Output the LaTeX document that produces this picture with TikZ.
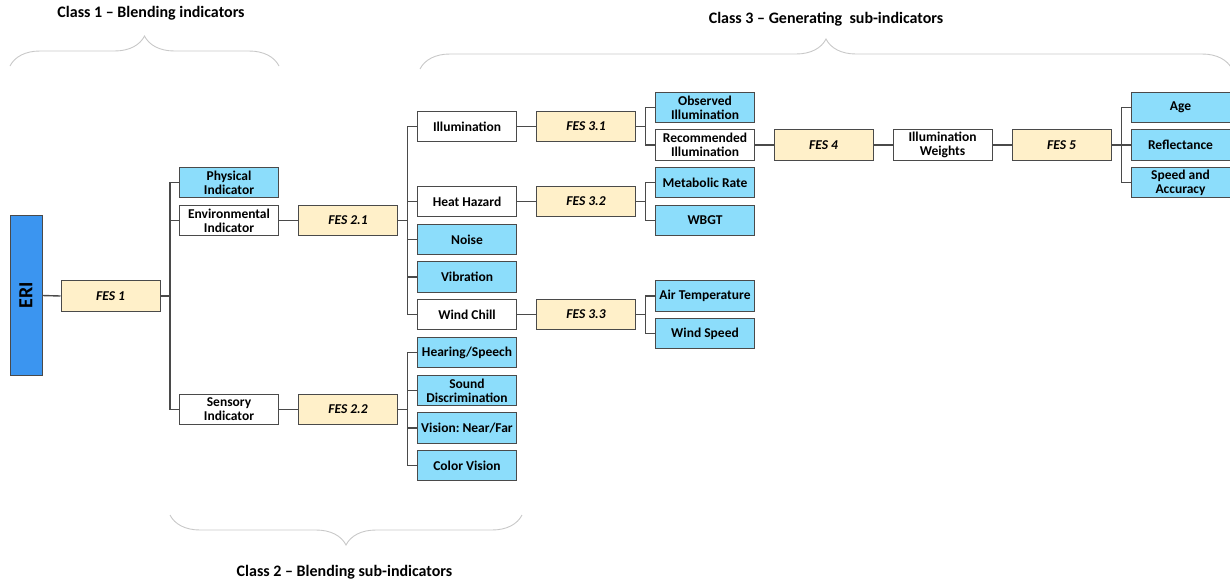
\documentclass[tikz,border=0pt]{standalone}
\usepackage{fontspec}
\setmainfont{Carlito}
\frenchspacing
\usetikzlibrary{decorations.pathreplacing}
\definecolor{eriblue}{HTML}{3B95F0}
\definecolor{leafblue}{HTML}{8CDDFB}
\definecolor{fescol}{HTML}{FFF0C9}
\definecolor{edgegray}{HTML}{4A4A4A}
\definecolor{bracegray}{HTML}{C8C8C8}
\tikzset{
  box/.style={draw=edgegray, line width=1pt, minimum width=99, minimum height=30.5,
    inner sep=0pt, align=center, font=\bfseries\fontsize{13.5}{14}\selectfont},
  whitebox/.style={box, fill=white},
  leaf/.style={box, fill=leafblue},
  fes/.style={box, fill=fescol, font=\bfseries\itshape\fontsize{13.5}{14}\selectfont},
  link/.style={draw=edgegray, line width=1.4pt},
  classbrace/.style={draw=bracegray, line width=0.9pt,
    decorate, decoration={brace, amplitude=30}},
  classlabel/.style={font=\bfseries\fontsize{16}{18}\selectfont, inner sep=0pt}
}
\begin{document}
\begin{tikzpicture}[x=1pt, y=-1pt]
\useasboundingbox (0,0) rectangle (1230,584);

% root
\node[draw=edgegray, line width=1pt, fill=eriblue, minimum width=32, minimum height=160,
  inner sep=0pt] (eri) at (26,295.5) {};
\node[rotate=90, font=\bfseries\fontsize{20}{20}\selectfont] (eritext) at (eri.center) {ERI};

% level 1
\node[fes] (fes1) at (110.5,296) {FES 1};
\node[leaf] (phys) at (229,182.5) {Physical\\Indicator};
\node[whitebox] (env) at (229,220.5) {Environmental\\Indicator};
\node[whitebox] (sens) at (229,409.5) {Sensory\\Indicator};

% level 2
\node[fes] (fes21) at (348,220.5) {FES 2.1};
\node[fes] (fes22) at (348,409.5) {FES 2.2};

\node[whitebox] (illum) at (467,126.5) {Illumination};
\node[whitebox] (heat) at (467,201.5) {Heat Hazard};
\node[leaf] (noise) at (467,239.5) {Noise};
\node[leaf] (vib) at (467,277) {Vibration};
\node[whitebox] (wind) at (467,314.5) {Wind Chill};
\node[leaf] (hear) at (467,352.5) {Hearing/Speech};
\node[leaf] (sound) at (467,390.5) {Sound\\Discrimination};
\node[leaf] (vision) at (467,428) {Vision: Near/Far};
\node[leaf] (color) at (467,465.5) {Color Vision};

% level 3
\node[fes] (fes31) at (586,126.5) {FES 3.1};
\node[fes] (fes32) at (586,201.5) {FES 3.2};
\node[fes] (fes33) at (586,314.5) {FES 3.3};

\node[leaf] (obs) at (705,107.5) {Observed\\Illumination};
\node[whitebox] (rec) at (705,145) {Recommended\\Illumination};
\node[leaf] (meta) at (705,182.5) {Metabolic Rate};
\node[leaf] (wbgt) at (705,220.5) {WBGT};
\node[leaf] (air) at (705,296) {Air Temperature};
\node[leaf] (wspeed) at (705,333.5) {Wind Speed};

% illumination weights chain
\node[fes] (fes4) at (823.5,145) {FES 4};
\node[whitebox] (iw) at (942.5,145) {Illumination\\Weights};
\node[fes] (fes5) at (1061.5,145) {FES 5};
\node[leaf] (age) at (1180.5,107.5) {Age};
\node[leaf] (refl) at (1180.5,145) {Reflectance};
\node[leaf] (speed) at (1180.5,182.5) {Speed and\\Accuracy};

% connectors
\draw[link] (eri.east) -- (fes1.west);
\foreach \c in {phys,env,sens} \draw[link] (fes1.east) -- ++(9.5,0) |- (\c.west);
\draw[link] (env.east) -- (fes21.west);
\draw[link] (sens.east) -- (fes22.west);
\foreach \c in {illum,heat,noise,vib,wind} \draw[link] (fes21.east) -- ++(9.5,0) |- (\c.west);
\foreach \c in {hear,sound,vision,color} \draw[link] (fes22.east) -- ++(9.5,0) |- (\c.west);
\draw[link] (illum.east) -- (fes31.west);
\draw[link] (heat.east) -- (fes32.west);
\draw[link] (wind.east) -- (fes33.west);
\foreach \c in {obs,rec} \draw[link] (fes31.east) -- ++(9.5,0) |- (\c.west);
\foreach \c in {meta,wbgt} \draw[link] (fes32.east) -- ++(9.5,0) |- (\c.west);
\foreach \c in {air,wspeed} \draw[link] (fes33.east) -- ++(9.5,0) |- (\c.west);
\draw[link] (rec.east) -- (fes4.west);
\draw[link] (fes4.east) -- (iw.west);
\draw[link] (iw.east) -- (fes5.west);
\foreach \c in {age,refl,speed} \draw[link] (fes5.east) -- ++(10,0) |- (\c.west);

% class braces and labels
\coordinate (b1a) at (10,66);
\coordinate (b1b) at (279,66);
\draw[classbrace] (b1a) -- (b1b);
\node[classlabel] (class1) at (151,13) {Class 1 – Blending indicators};

\coordinate (b3a) at (420,69);
\coordinate (b3b) at (1232,69);
\draw[classbrace] (b3a) -- (b3b);
\node[classlabel] (class3) at (826,19) {Class 3 – Generating\ \ sub-indicators};

\coordinate (b2a) at (170,515);
\coordinate (b2b) at (522,515);
\draw[classbrace, decoration={mirror}] (b2a) -- (b2b);
\node[classlabel] (class2) at (344.5,572) {Class 2 – Blending sub-indicators};
\end{tikzpicture}
\end{document}
